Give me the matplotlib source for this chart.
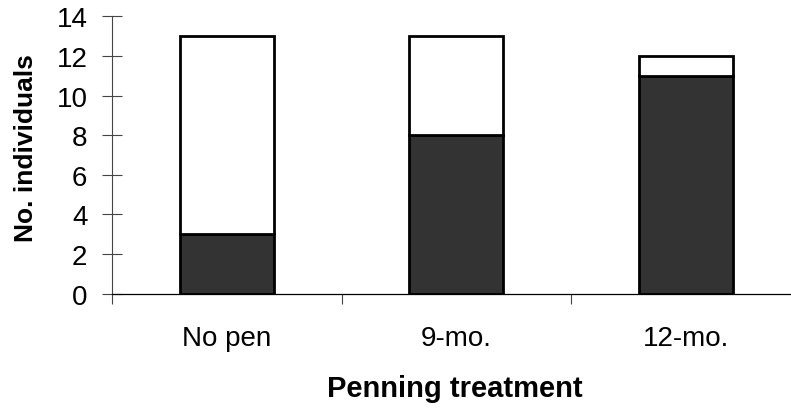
import matplotlib.pyplot as plt

plt.rcParams['font.family'] = ['Liberation Sans', 'DejaVu Sans']

# --- data ---
categories = ["No pen", "9-mo.", "12-mo."]
lower_vals = [3, 8, 11]    # dark segment
upper_vals = [10, 5, 1]    # white segment on top
y_ticks = [0, 2, 4, 6, 8, 10, 12, 14]

fig = plt.figure(figsize=(7.91, 4.10), dpi=100)
ax = fig.add_axes([0.1416, 0.2817, 0.8704, 0.676])

x = range(len(categories))
ax.bar(x, lower_vals, width=0.41, color='#333333', edgecolor='black', linewidth=2.0)
ax.bar(x, upper_vals, width=0.41, bottom=lower_vals, color='white',
       edgecolor='black', linewidth=2.0)

ax.set_xlim(-0.5, 2.5)
ax.set_ylim(0, 14)
ax.set_yticks(y_ticks)
# category borders get the tick marks, labels sit under the bars
ax.set_xticks([-0.5, 0.5, 1.5])
ax.set_xticklabels([])
ax.set_xticks(list(x), minor=True)
ax.set_xticklabels(categories, minor=True)

for s in ['top', 'right']:
    ax.spines[s].set_visible(False)
ax.spines['left'].set_linewidth(0.8)
ax.spines['left'].set_color('#444444')
ax.spines['bottom'].set_linewidth(0.9)

ax.tick_params(axis='y', direction='inout', length=14.4, width=0.8, color='#444444',
               labelsize=20, pad=10.5)
ax.tick_params(axis='x', which='major', direction='out', length=7, width=0.8, color='#444444')
ax.tick_params(axis='x', which='minor', length=0, labelsize=20, pad=23)

ax.set_ylabel("No. individuals", fontsize=19, fontweight='bold')
ax.yaxis.set_label_coords(-0.108, 0.528)
fig.text(0.5755, 0.0305, "Penning treatment", fontsize=21, fontweight='bold',
         ha='center', va='baseline')

fig.savefig("out.png", dpi=100)
